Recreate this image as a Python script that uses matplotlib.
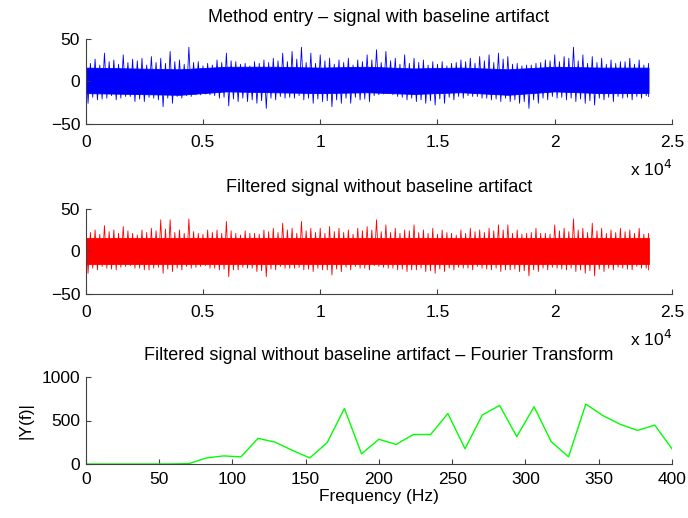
import matplotlib
matplotlib.use("Agg")
import matplotlib.pyplot as plt
import numpy as np

plt.rcParams['font.family'] = ['Liberation Sans', 'DejaVu Sans']
plt.rcParams['font.size'] = 12.5

# sample grid for the signal envelopes: every 400 samples (0..24000),
# plus the smaller tips half-way in between
env_t = np.arange(0, 24001, 400)
mid_t = env_t[:-1] + 200

# method entry signal: spike tips above / below the dense band
raw_hi = [25, 26, 33, 25, 31, 26, 27, 29, 27, 35, 25, 40, 23, 21, 25, 33,
          23, 21, 23, 25, 27, 33, 35, 40, 33, 31, 27, 25, 27, 25, 31, 37,
          35, 27, 31, 27, 25, 23, 23, 21, 25, 27, 29, 31, 33, 29, 21, 19,
          21, 25, 31, 29, 40, 31, 29, 27, 25, 23, 27, 25, 21]
raw_lo = [-26, -22, -20, -22, -18, -24, -24, -20, -30, -26, -20, -18, -16, -16, -20, -29,
          -24, -24, -26, -32, -22, -20, -20, -22, -26, -24, -30, -26, -26, -22, -24, -16,
          -14, -18, -22, -24, -26, -28, -26, -22, -20, -18, -20, -22, -24, -24, -26, -32,
          -26, -22, -20, -22, -24, -26, -28, -22, -24, -20, -22, -20, -18]
raw_mid_hi = [21, 19, 23, 20, 22, 24, 19, 22, 21, 23, 20, 22, 18, 19, 22, 24,
              20, 18, 21, 22, 24, 23, 26, 22, 21, 24, 20, 22, 19, 23, 25, 22,
              24, 20, 21, 22, 19, 20, 18, 22, 23, 21, 24, 22, 26, 20, 18, 19,
              22, 24, 23, 27, 24, 21, 22, 20, 21, 23, 20, 19]
raw_mid_lo = [-19, -21, -17, -20, -18, -21, -19, -22, -20, -18, -17, -16, -15, -17, -19, -21,
              -20, -22, -23, -20, -18, -19, -17, -20, -21, -23, -22, -20, -19, -21, -17, -15,
              -16, -19, -20, -22, -23, -21, -19, -18, -17, -18, -20, -21, -20, -22, -24, -22,
              -20, -18, -19, -20, -21, -23, -20, -19, -18, -19, -18, -17]

# filtered signal: spike tips above / below the dense band
filt_hi = [27, 25, 30, 25, 29, 21, 25, 27, 37, 37, 25, 38, 21, 25, 25, 35,
           21, 24, 21, 25, 27, 33, 27, 35, 27, 27, 29, 27, 25, 27, 29, 37,
           31, 27, 25, 31, 25, 27, 25, 21, 25, 27, 25, 27, 31, 31, 25, 21,
           27, 21, 31, 27, 38, 27, 33, 27, 25, 27, 25, 27, 21]
filt_lo = [-26, -22, -20, -22, -18, -20, -22, -20, -26, -24, -22, -20, -18, -20, -22, -30,
           -22, -20, -24, -30, -22, -20, -20, -22, -24, -22, -28, -24, -22, -20, -22, -18,
           -20, -22, -24, -22, -24, -26, -24, -22, -20, -22, -20, -22, -24, -22, -24, -29,
           -24, -22, -20, -22, -24, -26, -29, -24, -22, -20, -22, -20, -22]
filt_mid_hi = [22, 20, 23, 21, 24, 19, 22, 24, 26, 22, 21, 23, 20, 22, 21, 24,
               19, 21, 20, 23, 22, 25, 21, 24, 22, 21, 23, 22, 20, 24, 25, 23,
               22, 21, 24, 22, 21, 20, 22, 19, 21, 23, 22, 24, 25, 21, 20, 22,
               21, 20, 24, 23, 25, 22, 24, 21, 22, 23, 21, 20]
filt_mid_lo = [-20, -18, -21, -19, -17, -20, -22, -19, -21, -20, -18, -19, -17, -20, -21, -22,
               -19, -20, -23, -21, -18, -20, -19, -21, -20, -22, -21, -19, -18, -20, -17, -19,
               -20, -21, -22, -20, -23, -21, -20, -19, -20, -18, -21, -20, -22, -21, -23, -22,
               -20, -19, -21, -20, -22, -23, -21, -20, -19, -21, -18, -20]

# dense core of each band, every 2000 samples
core_t = [0, 2000, 4000, 6000, 8000, 10000, 12000, 14000, 16000, 18000, 20000, 22000, 24000]
raw_core_hi = [16, 15, 14, 17, 17, 16, 17, 15, 16, 14, 17, 16, 16]
raw_core_lo = [-14, -15, -16, -12, -13, -14, -13, -15, -13, -16, -12, -14, -14]
filt_core_hi = [16, 16, 16, 16, 16, 16, 16, 16, 16, 16, 16, 16, 16]
filt_core_lo = [-15, -15, -15, -15, -15, -15, -15, -15, -15, -15, -15, -15, -15]

# single-sided spectrum |Y(f)|
freq = [0, 11.8, 23.5, 35.3, 47.1, 58.8, 70.6, 82.4, 94.1, 105.9, 117.6, 129.4,
        141.2, 152.9, 164.7, 176.5, 188.2, 200.0, 211.8, 223.5, 235.3, 247.1,
        258.8, 270.6, 282.4, 294.1, 305.9, 317.6, 329.4, 341.2, 352.9, 364.7,
        376.5, 388.2, 400.0]
amp = [0, 0, 0, 0, 0, 1, 5, 70, 93, 82, 295, 250, 155, 70, 245, 638, 117, 284,
       225, 339, 339, 580, 175, 564, 673, 315, 658, 257, 82, 689, 556, 456, 386,
       447, 175]

W, H = 688.0, 518.0
TITLE_SIZE = 13
fig = plt.figure(figsize=(W / 100, H / 100), dpi=100)
SPINE = '#404040'


def frame(ax, xpad):
    for s in ('top', 'right'):
        ax.spines[s].set_visible(False)
    for s in ('left', 'bottom'):
        ax.spines[s].set_color(SPINE)
        ax.spines[s].set_linewidth(0.8)
    ax.tick_params(direction='in', length=3.6, width=0.8, color=SPINE)
    ax.tick_params(axis='x', pad=xpad)
    ax.tick_params(axis='y', pad=4)


def pix_axes(x0, x1, top, bottom):
    return fig.add_axes([x0 / W, 1 - bottom / H, (x1 - x0) / W, (bottom - top) / H])


def trace(hi, lo, mid_hi, mid_lo):
    # walk the tips in sample order: up, down, up, down ...
    t, v = [], []
    for i in range(len(env_t)):
        t += [env_t[i], min(env_t[i] + 100, 24000)]
        v += [hi[i], lo[i]]
        if i < len(mid_t):
            t += [mid_t[i], mid_t[i] + 100]
            v += [mid_hi[i], mid_lo[i]]
    return t, v


def signal_panel(top, bottom, sig, core_hi, core_lo, color, title):
    ax = pix_axes(85.7, 672, top, bottom)
    ax.fill_between(core_t, core_lo, core_hi, color=color, lw=0.6, edgecolor=color)
    t, v = trace(*sig)
    ax.plot(t, v, color=color, lw=0.6)
    ax.set_xlim(0, 25000)
    ax.set_ylim(-50, 50)
    ax.set_xticks(np.arange(0, 25001, 5000))
    ax.set_xticklabels(['0', '0.5', '1', '1.5', '2', '2.5'])
    ax.set_yticks([-50, 0, 50])
    ax.set_yticklabels(['\u221250', '0', '50'])
    frame(ax, 8)
    ax.set_title(title, fontsize=TITLE_SIZE, pad=12)
    fig.text(672 / W, 1 - (bottom + 45) / H, r'x 10$^{4}$', ha='right', va='center')
    return ax


signal_panel(38.7, 123.7, (raw_hi, raw_lo, raw_mid_hi, raw_mid_lo),
             raw_core_hi, raw_core_lo, '#0000ff',
             'Method entry \u2013 signal with baseline artifact')
signal_panel(208.7, 293.7, (filt_hi, filt_lo, filt_mid_hi, filt_mid_lo),
             filt_core_hi, filt_core_lo, '#ff0000',
             'Filtered signal without baseline artifact')

ax3 = pix_axes(85.7, 672, 377, 464)
ax3.plot(freq, amp, color='#00ff00', lw=1.0)
ax3.set_xlim(0, 400)
ax3.set_ylim(0, 1000)
ax3.set_xticks(np.arange(0, 401, 50))
ax3.set_yticks([0, 500, 1000])
frame(ax3, 5.5)
ax3.set_title('Filtered signal without baseline artifact \u2013 Fourier Transform',
              fontsize=TITLE_SIZE, pad=12)
ax3.set_xlabel('Frequency (Hz)', labelpad=2)
ax3.set_ylabel('|Y(f)|', labelpad=6)

fig.savefig('out.png', dpi=100)
